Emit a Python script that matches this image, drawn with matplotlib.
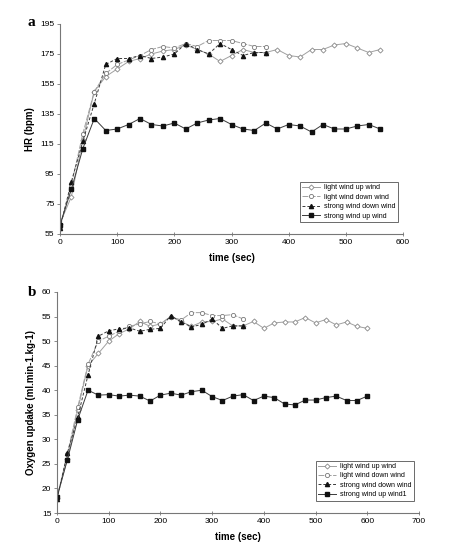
import numpy as np
import matplotlib.pyplot as plt

plt.rcParams['font.family'] = ['Liberation Sans', 'DejaVu Sans']

# ---- panel a : heart rate ----
t_long_a = list(range(0, 561, 20))
t_short_a = list(range(0, 361, 20))
hr_light_up = [62, 80, 118, 150, 160, 165, 170, 172, 175, 177, 178, 181, 178, 175, 170,
               174, 178, 176, 176, 178, 174, 173, 178, 178, 181, 182, 179, 176, 178]
hr_light_down = [60, 88, 122, 150, 162, 168, 171, 174, 178, 180, 179, 182, 180, 184, 184,
                 184, 182, 180, 180]
hr_strong_down = [59, 90, 117, 142, 168, 172, 172, 174, 172, 173, 175, 182, 178, 175, 182,
                  178, 174, 176, 176]
hr_strong_up = [61, 85, 112, 132, 124, 125, 128, 132, 128, 127, 129, 125, 129, 131, 132,
                128, 125, 124, 129, 125, 128, 127, 123, 128, 125, 125, 127, 128, 125]

# ---- panel b : oxygen uptake ----
t_long_b = list(range(0, 601, 20))
t_short_b = list(range(0, 361, 20))
vo2_light_up = [18, 26, 36, 45, 47.5, 50, 51.5, 52.5, 54, 53, 53.5, 55, 54, 53, 53.9,
                54, 54.5, 53.1, 53.1, 54, 52.6, 53.7, 53.9, 53.9, 54.8, 53.7, 54.4, 53.3,
                53.9, 53, 52.6]
vo2_light_down = [18, 27, 36.5, 45.3, 50, 51, 52, 53, 53.5, 54, 53.5, 55, 54.3, 55.8, 55.8,
                  55.2, 55.2, 55.4, 54.5]
vo2_strong_down = [17.8, 27.2, 34.5, 43.1, 51, 52.1, 52.5, 52.7, 52, 52.4, 52.6, 55.2, 53.9,
                   52.9, 53.4, 54.5, 52.6, 53.1, 53.1]
vo2_strong_up = [18.3, 25.8, 34, 40, 39, 39.1, 38.8, 39, 38.8, 37.8, 39, 39.4, 39, 39.7, 40,
                 38.7, 37.9, 38.8, 39.1, 37.9, 38.8, 38.5, 37.2, 37, 38, 38, 38.5, 38.8,
                 37.9, 37.9, 38.8]

fig = plt.figure(figsize=(4.71, 5.5), dpi=100)
ax1 = fig.add_axes([60/471, 1-234/550, 343/471, 210/550])
ax2 = fig.add_axes([57/471, 1-513/550, 362/471, 221/550])

gray = '#a0a0a0'
dark = '#3a3a3a'

def draw(ax, t_long, t_short, lu, ld, sd, su, labels):
    ax.plot(t_long, lu, color=gray, lw=0.7, marker='D', ms=2.6, mfc='white',
            mec='#888888', mew=0.6, label=labels[0])
    ax.plot(t_short, ld, color=gray, lw=0.7, ls=(0, (6, 1.5)), marker='o', ms=3,
            mfc='white', mec='#777777', mew=0.6, label=labels[1])
    ax.plot(t_short, sd, color=dark, lw=0.7, ls=(0, (3, 2)), marker='^', ms=3,
            mfc='#111111', mec='#111111', label=labels[2])
    ax.plot(t_long, su, color=dark, lw=0.7, marker='s', ms=3, mfc='#111111',
            mec='#111111', label=labels[3])
    for s in ['top', 'right']:
        ax.spines[s].set_visible(False)
    for s in ['left', 'bottom']:
        ax.spines[s].set_color('#777777')
        ax.spines[s].set_linewidth(0.8)
    ax.tick_params(labelsize=6, length=2, width=0.6, color='#777777', pad=2)
    ax.tick_params(axis='x', direction='inout', length=3)
    ax.set_xlabel('time (sec)', fontsize=7, fontweight='bold', labelpad=5)
    leg = ax.legend(loc='lower right', fontsize=5, frameon=True, fancybox=False,
                    edgecolor='#444444', handlelength=2.6, borderpad=0.35,
                    labelspacing=0.35, handletextpad=0.5)
    leg.get_frame().set_linewidth(0.7)

draw(ax1, t_long_a, t_short_a, hr_light_up, hr_light_down, hr_strong_down, hr_strong_up,
     ['light wind up wind', 'light wind down wind', 'strong wind down wind',
      'strong wind up wind'])
ax1.set_xlim(0, 600)
ax1.set_ylim(55, 195)
ax1.set_xticks(range(0, 601, 100))
ax1.set_yticks(range(55, 196, 20))
ax1.set_ylabel('HR (bpm)', fontsize=7, fontweight='bold')
ax1.legend_.set_bbox_to_anchor((0.995, 0.04))

draw(ax2, t_long_b, t_short_b, vo2_light_up, vo2_light_down, vo2_strong_down, vo2_strong_up,
     ['light wind up wind', 'light wind down wind', 'strong wind down wind',
      'strong wind up wind1'])
ax2.set_xlim(0, 700)
ax2.set_ylim(15, 60)
ax2.set_xticks(range(0, 701, 100))
ax2.set_yticks(range(15, 61, 5))
ax2.set_ylabel('Oxygen updake (ml.min-1.kg-1)', fontsize=7, fontweight='bold')
ax2.legend_.set_bbox_to_anchor((0.995, 0.04))

fig.text(28/471, 1-22/550, 'a', fontsize=11, fontweight='bold', family='Liberation Serif',
         va='center')
fig.text(28/471, 1-292/550, 'b', fontsize=11, fontweight='bold', family='Liberation Serif',
         va='center')

fig.savefig('out.png', dpi=100)
